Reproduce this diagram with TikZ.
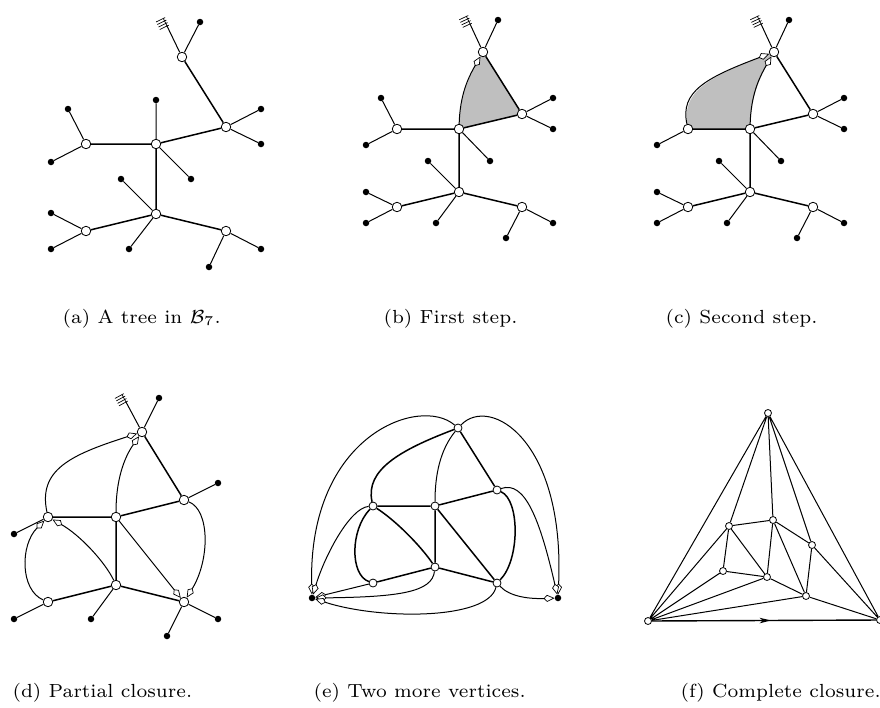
\documentclass[tikz,border=0pt]{standalone}
\usetikzlibrary{arrows.meta,backgrounds,decorations.markings}
% root mark: #1,#2 = end point, #3,#4 = unit outward direction
\newcommand{\rootmark}[4]{%
  \pgfmathsetmacro{\rmpx}{-(#4)}\pgfmathsetmacro{\rmpy}{#3}%
  \draw[hat] (#1,#2) -- ++({8.4*#3},{8.4*#4});
  \foreach \k in {0,2.8,5.6,8.4}{
    \draw[hat] ({#1+\k*#3+2*\rmpx},{#2+\k*#4+2*\rmpy}) -- ++({-10*\rmpx},{-10*\rmpy});}
}
\begin{document}
\begin{tikzpicture}[x=1pt,y=-1pt,
  wv/.style={circle,draw,fill=white,inner sep=0pt,minimum size=9.5pt,line width=0.8pt},
  wvs/.style={wv,minimum size=8pt},
  wvt/.style={wv,minimum size=7pt},
  bv/.style={circle,fill=black,inner sep=0pt,minimum size=6.5pt},
  te/.style={line width=1.5pt},
  le/.style={line width=1pt},
  clo/.style={line width=1pt,-{Kite[fill=white,length=11pt,width=7pt,inset=3.5pt,line width=0.7pt]}},
  hat/.style={line width=0.7pt},
  captext/.style={anchor=base west,inner sep=0pt,scale=2.71,font=\fontsize{7}{8}\selectfont},
]
\useasboundingbox (0,0) rectangle (880,707);

% ---------------- (a) ----------------
\node[wv] (aA1) at (182,57) {};
\node[wv] (aA2) at (226,127) {};
\node[wv] (aC) at (156,144) {};
\node[wv] (aL) at (86,144) {};
\node[wv] (aB) at (156,214) {};
\node[wv] (aBL) at (86,231) {};
\node[wv] (aBR) at (226,231) {};
\coordinate (ar) at (167,26);
\node[bv] (al1) at (200,22) {};
\node[bv] (al2) at (261,109) {};
\node[bv] (al3) at (261,144) {};
\node[bv] (al4) at (156,100) {};
\node[bv] (al5) at (191,179) {};
\node[bv] (al6) at (68,109) {};
\node[bv] (al7) at (51,162) {};
\node[bv] (al8) at (121,179) {};
\node[bv] (al9) at (129,249) {};
\node[bv] (al10) at (51,213) {};
\node[bv] (al11) at (51,249) {};
\node[bv] (al12) at (261,249) {};
\node[bv] (al13) at (209,267) {};
\draw[te] (aA1)--(aA2) (aA2)--(aC) (aC)--(aL) (aC)--(aB) (aB)--(aBL) (aB)--(aBR);
\draw[le] (aA1)--(ar) (aA1)--(al1) (aA2)--(al2) (aA2)--(al3) (aC)--(al4) (aC)--(al5)
  (aL)--(al6) (aL)--(al7) (aB)--(al8) (aB)--(al9) (aBL)--(al10) (aBL)--(al11)
  (aBR)--(al12) (aBR)--(al13);
\rootmark{167}{26}{-0.437}{-0.9}
\node[captext] (capa) at (62,323) {(a) A tree in $\mathcal{B}_7$.};

% ---------------- (b) ----------------
\node[wv] (bA1) at (483,52) {};
\node[wv] (bA2) at (522,114) {};
\node[wv] (bC) at (459,129) {};
\node[wv] (bL) at (397,129) {};
\node[wv] (bB) at (459,192) {};
\node[wv] (bBL) at (397,207) {};
\node[wv] (bBR) at (522,207) {};
\coordinate (br) at (470,24);
\node[bv] (bl1) at (498,20) {};
\node[bv] (bl2) at (553,98) {};
\node[bv] (bl3) at (553,129) {};
\node[bv] (bl5) at (490,161) {};
\node[bv] (bl6) at (381,98) {};
\node[bv] (bl7) at (366,145) {};
\node[bv] (bl8) at (428,161) {};
\node[bv] (bl9) at (436,223) {};
\node[bv] (bl10) at (366,192) {};
\node[bv] (bl11) at (366,223) {};
\node[bv] (bl12) at (553,223) {};
\node[bv] (bl13) at (506,238) {};
\begin{scope}[on background layer]
\fill[gray!50] (bC.center) -- (bA2.center) -- (bA1.center) .. controls (468,78) and (460,95) .. (bC.center);
\end{scope}
\draw[te] (bA1)--(bA2) (bA2)--(bC) (bC)--(bL) (bC)--(bB) (bB)--(bBL) (bB)--(bBR);
\draw[le] (bA1)--(br) (bA1)--(bl1) (bA2)--(bl2) (bA2)--(bl3) (bC)--(bl5)
  (bL)--(bl6) (bL)--(bl7) (bB)--(bl8) (bB)--(bl9) (bBL)--(bl10) (bBL)--(bl11)
  (bBR)--(bl12) (bBR)--(bl13);
\draw[clo] (bC) .. controls (460,95) and (468,78) .. (bA1);
\rootmark{470}{24}{-0.425}{-0.906}
\node[captext] (capb) at (383,323) {(b) First step.};

% ---------------- (c) ----------------
\node[wv] (cA1) at (774,52) {};
\node[wv] (cA2) at (813,114) {};
\node[wv] (cC) at (750,129) {};
\node[wv] (cL) at (688,129) {};
\node[wv] (cB) at (750,192) {};
\node[wv] (cBL) at (688,207) {};
\node[wv] (cBR) at (813,207) {};
\coordinate (cr) at (761,24);
\node[bv] (cl1) at (789,20) {};
\node[bv] (cl2) at (844,98) {};
\node[bv] (cl3) at (844,129) {};
\node[bv] (cl5) at (781,161) {};
\node[bv] (cl7) at (657,145) {};
\node[bv] (cl8) at (719,161) {};
\node[bv] (cl9) at (727,223) {};
\node[bv] (cl10) at (657,192) {};
\node[bv] (cl11) at (657,223) {};
\node[bv] (cl12) at (844,223) {};
\node[bv] (cl13) at (797,238) {};
\begin{scope}[on background layer]
\fill[gray!50] (cL.center) -- (cC.center) .. controls (751,95) and (759,78) .. (cA1.center)
  .. controls (705,78) and (680,92) .. (cL.center);
\end{scope}
\draw[te] (cA1)--(cA2) (cA2)--(cC) (cC)--(cL) (cC)--(cB) (cB)--(cBL) (cB)--(cBR);
\draw[le] (cA1)--(cr) (cA1)--(cl1) (cA2)--(cl2) (cA2)--(cl3) (cC)--(cl5)
  (cL)--(cl7) (cB)--(cl8) (cB)--(cl9) (cBL)--(cl10) (cBL)--(cl11)
  (cBR)--(cl12) (cBR)--(cl13);
\draw[clo] (cC) .. controls (751,95) and (759,78) .. (cA1);
\draw[clo] (cL) .. controls (680,92) and (705,78) .. (cA1);
\rootmark{761}{24}{-0.425}{-0.906}
\node[captext] (capc) at (665,323) {(c) Second step.};

% ---------------- (d) ----------------
\node[wv] (dA1) at (142,432) {};
\node[wv] (dA2) at (184,500) {};
\node[wv] (dC) at (116,517) {};
\node[wv] (dL) at (48,517) {};
\node[wv] (dB) at (116,585) {};
\node[wv] (dBL) at (48,602) {};
\node[wv] (dBR) at (184,602) {};
\coordinate (dr) at (126,402);
\node[bv] (dl1) at (159,398) {};
\node[bv] (dl2) at (218,483) {};
\node[bv] (dl7) at (14,534) {};
\node[bv] (dl9) at (91,619) {};
\node[bv] (dl11) at (14,619) {};
\node[bv] (dl12) at (218,619) {};
\node[bv] (dl13) at (167,636) {};
\draw[te] (dA1)--(dA2) (dA2)--(dC) (dC)--(dL) (dC)--(dB) (dB)--(dBL) (dB)--(dBR);
\draw[le] (dA1)--(dr) (dA1)--(dl1) (dA2)--(dl2) (dL)--(dl7) (dB)--(dl9)
  (dBL)--(dl11) (dBR)--(dl12) (dBR)--(dl13);
\draw[clo] (dC) .. controls (116,480) and (124,458) .. (dA1);
\draw[clo] (dL) .. controls (38,470) and (70,455) .. (dA1);
\draw[clo] (dBL) .. controls (20,590) and (20,545) .. (dL);
\draw[clo] (dB) .. controls (105,562) and (80,535) .. (dL);
\draw[clo] (dC) -- (dBR);
\draw[clo] (dA2) .. controls (210,510) and (210,560) .. (dBR);
\rootmark{126}{402}{-0.477}{-0.879}
\node[captext] (capd) at (12,697) {(d) Partial closure.};

% ---------------- (e) ----------------
\node[wvs] (eT) at (458,428) {};
\node[wvs] (eA2) at (497,490) {};
\node[wvs] (eC) at (435,506) {};
\node[wvs] (eL) at (373,506) {};
\node[wvs] (eB) at (435,567) {};
\node[wvs] (eBL) at (373,583) {};
\node[wvs] (eBR) at (497,583) {};
\node[bv] (eP) at (312,598) {};
\node[bv] (eQ) at (558,598) {};
\draw[te] (eT)--(eA2) (eA2)--(eC) (eC)--(eL) (eC)--(eB) (eC)--(eBR) (eB)--(eBL) (eB)--(eBR);
\draw[te] (eT) .. controls (400,450) and (365,470) .. (eL);
\draw[le] (eT) .. controls (440,450) and (435,475) .. (eC);
\draw[te] (eL) .. controls (395,520) and (420,545) .. (eB);
\draw[te] (eL) .. controls (350,530) and (350,575) .. (eBL);
\draw[te] (eA2) .. controls (520,500) and (520,560) .. (eBR);
\draw[clo] (eT) .. controls (420,395) and (308,435) .. (eP);
\draw[clo] (eL) .. controls (350,508) and (325,555) .. (eP);
\draw[clo] (eBL) -- (eP);
\draw[clo] (eB) .. controls (432,592) and (400,597) .. (eP);
\draw[clo] (eBR) .. controls (488,620) and (380,620) .. (eP);
\draw[clo] (eT) .. controls (490,395) and (565,440) .. (eQ);
\draw[clo] (eA2) .. controls (525,480) and (540,520) .. (eQ);
\draw[clo] (eBR) .. controls (510,597) and (530,599) .. (eQ);
\node[captext] (cape) at (313,697) {(e) Two more vertices.};

% ---------------- (f) ----------------
\node[wvt] (fT) at (768,413) {};
\node[wvt] (fP) at (648,621) {};
\node[wvt] (fQ) at (880,620) {};
\node[wvt] (fa) at (729,526) {};
\node[wvt] (fb) at (773,520) {};
\node[wvt] (fc) at (812,545) {};
\node[wvt] (fd) at (723,571) {};
\node[wvt] (fe) at (767,577) {};
\node[wvt] (ff) at (806,596) {};
\draw[le] (fT)--(fP) (fT)--(fQ) (fT)--(fa) (fT)--(fb) (fT)--(fc)
  (fP)--(fa) (fP)--(fd) (fP)--(fe) (fP)--(ff)
  (fQ)--(fc) (fQ)--(ff)
  (fa)--(fb) (fa)--(fd) (fa)--(fe)
  (fb)--(fe) (fb)--(ff) (fb)--(fc)
  (fc)--(ff) (fd)--(fe) (fe)--(ff);
\draw[line width=1.4pt,postaction={decorate},
  decoration={markings,mark=at position 0.53 with {\arrow{Stealth[length=11pt,width=5.5pt,inset=3pt]}}}]
  (fP) -- (fQ);
\node[captext] (capf) at (680,697) {(f) Complete closure.};
\end{tikzpicture}
\end{document}
